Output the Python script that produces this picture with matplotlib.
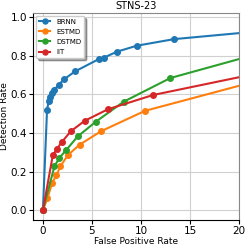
import matplotlib
matplotlib.use('Agg')
import matplotlib.pyplot as plt

# ROC-like curves (last point lies beyond the x limit)
brnn_x = [0, 0.42, 0.6, 0.76, 0.93, 1.15, 1.59, 2.2, 3.27, 5.71, 6.25, 7.54, 9.57, 13.36, 30]
brnn_y = [0, 0.519, 0.567, 0.587, 0.605, 0.622, 0.649, 0.679, 0.718, 0.782, 0.790, 0.820, 0.851, 0.885, 0.963]

estmd_x = [0, 0.45, 0.93, 1.37, 1.79, 2.56, 3.74, 5.9, 10.4, 30]
estmd_y = [0, 0.061, 0.139, 0.181, 0.228, 0.286, 0.339, 0.408, 0.514, 0.779]

dstmd_x = [0, 1.18, 1.67, 2.4, 3.55, 5.37, 8.22, 13.0, 30]
dstmd_y = [0, 0.228, 0.270, 0.313, 0.382, 0.457, 0.561, 0.684, 0.922]

iit_x = [0, 1.01, 1.45, 1.92, 2.83, 4.27, 6.66, 11.23, 30]
iit_y = [0, 0.285, 0.319, 0.352, 0.408, 0.463, 0.523, 0.596, 0.793]

series = [
    ('BRNN', brnn_x, brnn_y, '#1f77b4'),
    ('ESTMD', estmd_x, estmd_y, '#ff7f0e'),
    ('DSTMD', dstmd_x, dstmd_y, '#2ca02c'),
    ('IIT', iit_x, iit_y, '#d62728'),
]


def main():
    fig = plt.figure(figsize=(2.49, 2.46), dpi=100)
    ax = fig.add_axes([0.133, 0.106, 0.827, 0.841])

    for name, xs, ys, color in series:
        ax.plot(xs, ys, '-o', color=color, label=name, lw=1.5, ms=4)

    ax.set_xlim(-1, 20)
    ax.set_ylim(-0.05, 1.02)
    ax.set_xticks([0, 5, 10, 15, 20])
    ax.set_yticks([0.0, 0.2, 0.4, 0.6, 0.8, 1.0])
    ax.grid(True, color='#d0d0d0', lw=0.8)
    ax.set_axisbelow(True)
    for side in ['top', 'right']:
        ax.spines[side].set_color('#888888')
    ax.tick_params(labelsize=7.5, length=3, pad=1.5)

    ax.set_title('STNS-23', fontsize=7, pad=3)
    ax.set_xlabel('False Positive Rate', fontsize=6.5, labelpad=0.5)
    ax.set_ylabel('Detection Rate', fontsize=6.5, labelpad=1)

    ax.legend(loc='upper left', fontsize=5, shadow=True, handlelength=1.7,
              borderaxespad=0.4, labelspacing=0.6, markerscale=0.9)

    fig.savefig('out.png', dpi=100)


if __name__ == '__main__':
    main()
